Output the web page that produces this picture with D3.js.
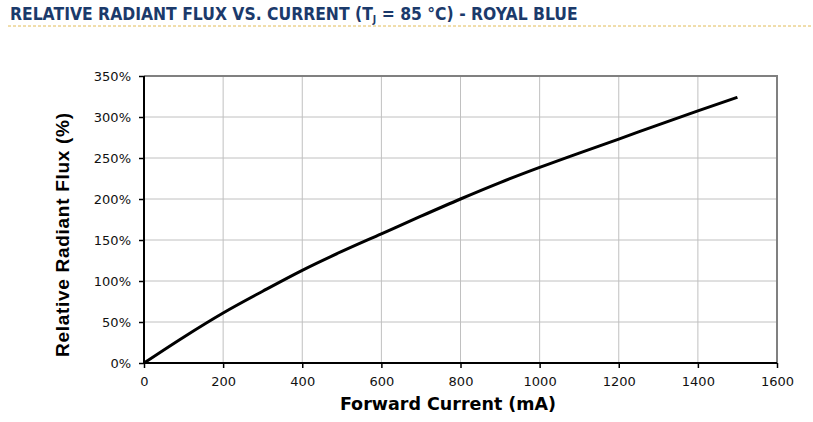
<!DOCTYPE html>
<html><head><meta charset="utf-8">
<script src="https://cdnjs.cloudflare.com/ajax/libs/d3/7.8.5/d3.min.js"></script>
<style>body{margin:0;background:#fff}svg{display:block}</style>
</head><body>
<svg id="c" width="813" height="422"></svg>
<script>
const current = [0, 100, 200, 300, 400, 500, 600, 700, 800, 900, 1000, 1100, 1200, 1300, 1400, 1500];
const flux = [0, 31.5, 61, 87.5, 113, 136, 157.5, 179, 200, 220, 238.5, 256, 273, 290.5, 307.5, 324];
const xTicks = [0, 200, 400, 600, 800, 1000, 1200, 1400, 1600];
const yTicks = [0, 50, 100, 150, 200, 250, 300, 350];

const svg = d3.select("#c");
const L = 144, R = 777, T = 76, B = 363;
const x = d3.scaleLinear().domain([0, 1600]).range([L, R]);
const y = d3.scaleLinear().domain([0, 350]).range([B, T]);

// title
const tg = svg.append("g");
const title = tg.append("text").attr("x", 0).attr("y", 0)
  .attr("font-family", "Verdana, DejaVu Sans").attr("font-weight", "bold")
  .attr("font-size", 17).attr("fill", "#1b3a6b");
title.append("tspan").text("RELATIVE RADIANT FLUX VS. CURRENT (T");
title.append("tspan").attr("font-size", 10).attr("dy", 3).text("J");
title.append("tspan").attr("dy", -3).text(" = 85 °C) - ROYAL BLUE");
const tw = title.node().getBBox().width;
tg.attr("transform", `translate(10,19.5) scale(${568 / tw},1)`);
svg.append("line").attr("x1", 8).attr("x2", 813).attr("y1", 26).attr("y2", 26)
  .attr("stroke", "#e2bc58").attr("stroke-width", 1).attr("stroke-dasharray", "3,2");

// grid
svg.append("g").selectAll("line").data(xTicks.slice(1, -1)).join("line")
  .attr("x1", d => x(d)).attr("x2", d => x(d)).attr("y1", T).attr("y2", B)
  .attr("stroke", "#c0c0c0").attr("stroke-width", 1);
svg.append("g").selectAll("line").data(yTicks.slice(1, -1)).join("line")
  .attr("x1", L).attr("x2", R).attr("y1", d => y(d)).attr("y2", d => y(d))
  .attr("stroke", "#c0c0c0").attr("stroke-width", 1);
// frame top/right
svg.append("path").attr("d", `M${L},${T}H${R}V${B}`).attr("fill", "none")
  .attr("stroke", "#808080").attr("stroke-width", 2);

// axes
const xAxis = svg.append("g").attr("transform", `translate(0,${B})`)
  .call(d3.axisBottom(x).tickValues(xTicks).tickSize(5).tickPadding(9).tickFormat(d3.format("d")));
const yAxis = svg.append("g").attr("transform", `translate(${L},0)`)
  .call(d3.axisLeft(y).tickValues(yTicks).tickSize(5).tickPadding(8).tickFormat(d => d + "%"));
[xAxis, yAxis].forEach(a => {
  a.select(".domain").attr("stroke", "#000").attr("stroke-width", 2);
  a.selectAll(".tick line").attr("stroke", "#000").attr("stroke-width", 1.5);
  a.selectAll(".tick text").attr("font-family", "Verdana, DejaVu Sans").attr("font-size", 13).attr("fill", "#111");
});
xAxis.select(".domain").attr("d", `M${L},0H${R}`);
yAxis.select(".domain").attr("d", `M0,${B}V${T}`);

// curve
svg.append("path").datum(current.map((c, i) => [c, flux[i]]))
  .attr("fill", "none").attr("stroke", "#000").attr("stroke-width", 3)
  .attr("d", d3.line().x(d => x(d[0])).y(d => y(d[1])).curve(d3.curveMonotoneX));

// axis titles
svg.append("text").attr("x", 448).attr("y", 410).attr("text-anchor", "middle")
  .attr("font-family", "DejaVu Sans").attr("font-weight", "bold").attr("font-size", 17.5)
  .attr("fill", "#000").text("Forward Current (mA)");
svg.append("text").attr("transform", "translate(69,235) rotate(-90)").attr("text-anchor", "middle")
  .attr("font-family", "Liberation Sans, Arial").attr("font-weight", "bold").attr("font-size", 19)
  .attr("textLength", 244).attr("lengthAdjust", "spacing")
  .attr("fill", "#000").text("Relative Radiant Flux (%)");
</script>
</body></html>
